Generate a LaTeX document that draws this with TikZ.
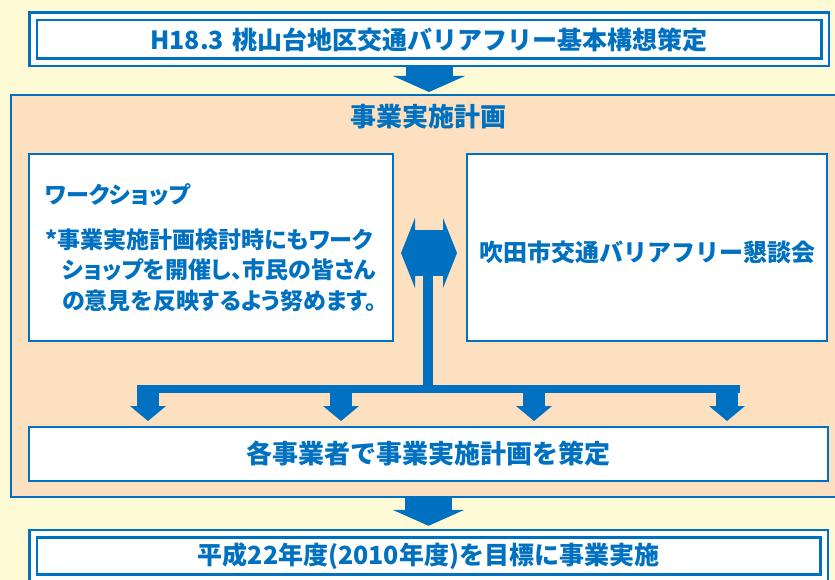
\documentclass[tikz,border=0pt]{standalone}
\usepackage{fontspec}
\setmainfont{Noto Sans CJK JP}
\usetikzlibrary{positioning}
\usetikzlibrary{arrows.meta}
\usetikzlibrary{calc}
\definecolor{flowblue}{RGB}{0,112,192}
\definecolor{paleyellow}{RGB}{255,250,214}
\definecolor{peach}{RGB}{253,224,191}

\begin{document}
\begin{tikzpicture}[x=1pt, y=-1pt,
    twinbox/.style={draw=flowblue, line width=2.5pt, double=white, double distance=5pt, fill=white, outer sep=5pt, inner sep=0pt, text=flowblue, font=\bfseries},
    planbox/.style={draw=flowblue, line width=2pt, fill=peach},
    whitebox/.style={draw=flowblue, line width=2pt, fill=white, inner sep=0pt, text=flowblue, font=\bfseries},
    bluetext/.style={text=flowblue, font=\bfseries},
    bigarrow/.style={flowblue, line width=47pt, -{Triangle[width=72pt, length=16pt, line width=0pt]}},
    swaparrow/.style={flowblue, line width=46pt, {Triangle[width=70pt, length=14pt, line width=0pt]}-{Triangle[width=70pt, length=14pt, line width=0pt]}},
    forkarrow/.style={flowblue, line width=22pt, -{Triangle[width=36pt, length=15pt, line width=0pt]}}]

    \useasboundingbox (0,0) rectangle (835,580);
    \fill[paleyellow] (0,0) rectangle (835,580);

    \node[twinbox, minimum width=792pt, minimum height=46pt] (kousou) at (429,39.5) {\fontsize{25}{25}\selectfont H18.3\hspace{0.35em}桃山台地区交通バリアフリー基本構想策定};

    \node[planbox, minimum width=827pt, minimum height=402pt] (plan) at (424.5,296) {};
    \node[bluetext] (plantitle) at (428,117) {\fontsize{26}{26}\selectfont 事業実施計画};

    \node[whitebox, minimum width=364pt, minimum height=187pt, align=left, font=\bfseries\addfontfeature{RawFeature=+palt}\fontsize{23}{30.5}\selectfont] (ws) at (211,247.5) {ワークショップ\\[14.5pt]
        *事業実施計画検討時にもワーク\\
        \hspace*{0.75em}ショップを開催し、市民の皆さん\\
        \hspace*{0.75em}の意見を反映するよう努めます。};
    \node[whitebox, minimum width=360pt, minimum height=187pt] (kon) at (647,247.5) {\raisebox{-5pt}[\height][\depth]{\fontsize{24}{24}\selectfont 吹田市交通バリアフリー懇談会}};

    \node[whitebox, minimum width=799pt, minimum height=54pt] (act) at (428.5,454) {\fontsize{26}{26}\selectfont 各事業者で事業実施計画を策定};

    \node[twinbox, minimum width=791pt, minimum height=44.5pt] (goal) at (428.5,556) {\fontsize{25}{25}\selectfont 平成22年度(2010年度)を目標に事業実施};

    \draw[bigarrow, shorten >=2pt] (kousou.south) -- (kousou.south |- plan.north);
    \draw[bigarrow, shorten >=3pt] (goal.north |- plan.south) -- (goal.north);

    \draw[swaparrow] ($(ws.east)+(7,5.5)$) -- ($(kon.west)+(-9,5.5)$);

    \coordinate (hub) at ($(ws.east)!0.5!(kon.west)+(-2,0)$);
    \coordinate (barL) at (137,389);
    \coordinate (barR) at (740,389);
    \draw[flowblue, line width=10pt] (hub) -- (hub |- barL);
    \draw[flowblue, line width=8pt] (barL) -- (barR);
    \foreach \x [count=\i] in {148,341,534,727} {
        \coordinate (fork\i) at (\x,389);
        \draw[forkarrow, shorten >=5pt] (fork\i) -- (fork\i |- act.north);
    }

\end{tikzpicture}
\end{document}
